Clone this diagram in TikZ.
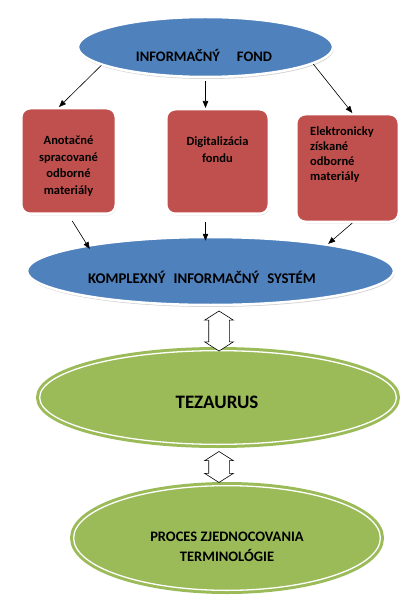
\documentclass[tikz,border=0pt]{standalone}
\usepackage{fontspec}
\setmainfont{Carlito}
\usetikzlibrary{shapes.geometric,shapes.arrows,shadows,positioning,arrows.meta}

\begin{document}
\begin{tikzpicture}[x=1pt,y=-1pt,
    bluell/.style={ellipse, fill=fondblue, draw=white, line width=2.5pt,
        drop shadow={shadow xshift=0.8pt, shadow yshift=-2pt, opacity=0.35}},
    redbox/.style={rectangle, rounded corners=9pt, fill=boxred, draw=white, line width=2.5pt,
        drop shadow={shadow xshift=0.8pt, shadow yshift=-1.5pt, opacity=0.3}},
    greenell/.style={ellipse, fill=tezgreen, draw=tezgreen, double=white,
        double distance=1.3pt, line width=3pt},
    boxtxt/.style={inner sep=0pt, font=\fontsize{12.5}{16.5}\selectfont\bfseries},
    conn/.style={-{Triangle[length=7pt,width=5.5pt]}, line width=0.6pt},
    dblarrow/.style={double arrow, draw=black, fill=white, line width=0.6pt, rotate=90,
        inner xsep=0pt, inner ysep=10pt, minimum height=40pt, minimum width=0pt,
        double arrow head extend=4pt, double arrow tip angle=115}]
    % Define shape colors
    \definecolor{fondblue}{RGB}{79, 129, 189}
    \definecolor{boxred}{RGB}{192, 80, 77}
    \definecolor{tezgreen}{RGB}{155, 187, 89}

    \useasboundingbox (0,0) rectangle (418,612);

    % Informacny fond
    \node[bluell, minimum width=255pt, minimum height=60pt] (fond) at (205.5,47) {};
    \node[inner sep=0pt, font=\fontsize{14.5}{16}\selectfont\bfseries] (fondtxt) at (204,55) {INFORMAČNÝ\hspace{17pt}FOND};

    % The three red boxes
    \node[redbox, minimum width=94.5pt, minimum height=105.5pt] (anot) at (68.5,161) {};
    \node[redbox, minimum width=102.5pt, minimum height=104.5pt] (digit) at (217.5,161.5) {};
    \node[redbox, minimum width=102.5pt, minimum height=107.5pt] (elek) at (347.5,168) {};
    \node[boxtxt, align=center, below=29pt of anot.north] (anottxt) {Anotačné\\spracované\\odborné\\materiály};
    \node[boxtxt, align=center, below=29pt of digit.north] (digittxt) {Digitalizácia\\fondu};
    \node[boxtxt, align=left, font=\fontsize{12.5}{15}\selectfont\bfseries,
        below right=14pt and 15pt of elek.north west] (elektxt) {Elektronicky\\získané\\odborné\\materiály};

    % Komplexny informacny system
    \node[bluell, minimum width=367pt, minimum height=68pt] (ksys) at (210.5,271) {};
    \node[inner sep=0pt, font=\fontsize{14.8}{16}\selectfont\bfseries] (ksystxt) at (202,277) {KOMPLEXNÝ\hspace{8pt}INFORMAČNÝ\hspace{8pt}SYSTÉM};

    % Arrows
    \draw[conn] (fond.190) -- (anot.100);
    \draw[conn, shorten <=3pt] (fond.south) -- (fond.south |- digit.north);
    \draw[conn] (fond.-9) -- (elek.85);
    \draw[conn, shorten <=7pt, shorten >=-5pt] (anot.south) -- (ksys.168);
    \draw[conn, shorten <=7pt, shorten >=-5pt] (digit.south -| fond.south) -- (ksys.north -| fond.south);
    \draw[conn] (elek.-85) -- (ksys.13);

    % Tezaurus and the process
    \node[greenell, minimum width=356.7pt, minimum height=93.7pt] (tez) at (218,397.5) {};
    \node[inner sep=0pt, font=\fontsize{19}{20}\selectfont\bfseries] (teztxt) at (217,402) {TEZAURUS};
    \node[greenell, minimum width=306.7pt, minimum height=104.7pt] (proc) at (227,538) {};
    \node[inner sep=0pt, align=center, font=\fontsize{14.5}{20}\selectfont\bfseries] (proctxt) at (227,547) {PROCES ZJEDNOCOVANIA\\TERMINOLÓGIE};

    \node[dblarrow] (dbl1) at (219,331) {};
    \node[dblarrow, minimum height=31pt] (dbl2) at (219,467) {};

\end{tikzpicture}
\end{document}
